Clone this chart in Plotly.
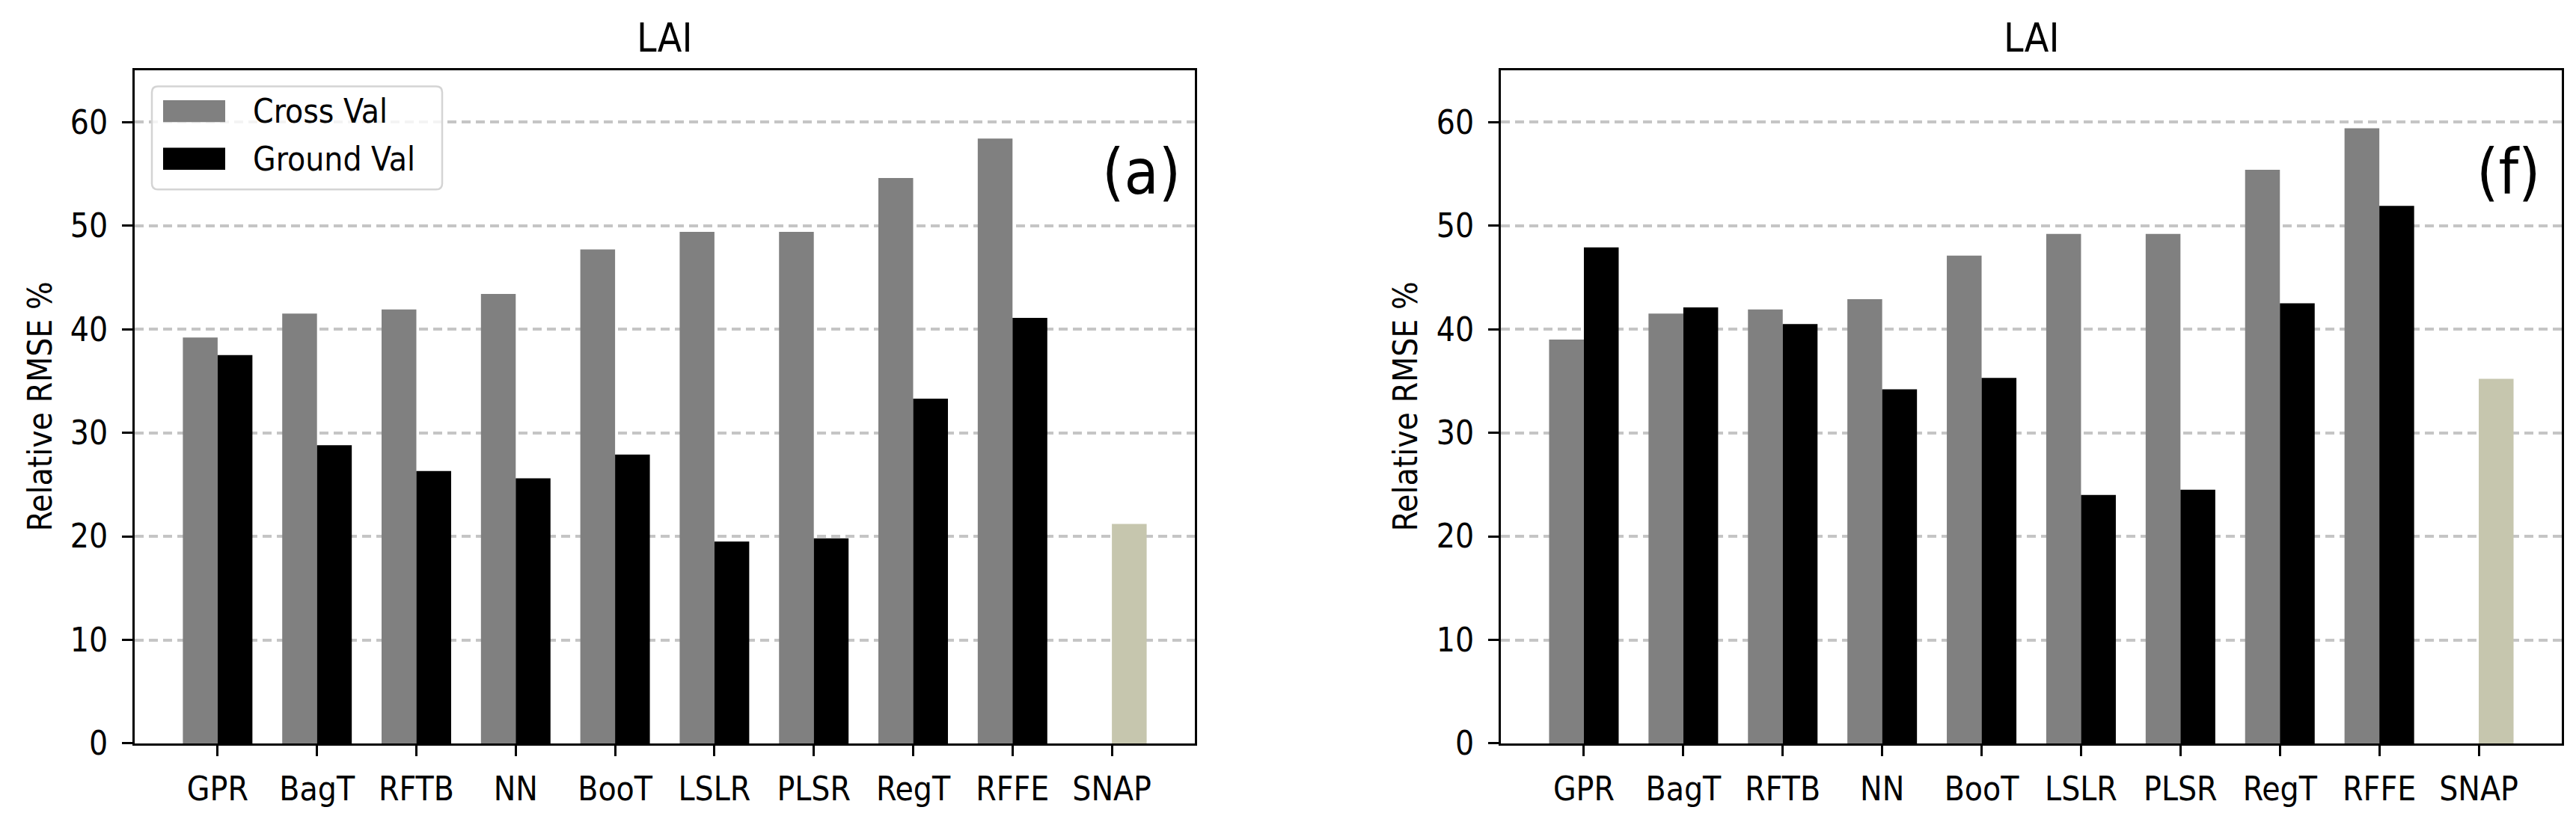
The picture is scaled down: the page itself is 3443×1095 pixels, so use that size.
import plotly.graph_objects as go
from plotly.subplots import make_subplots

W, H = 3443, 1095

categories = ["GPR", "BagT", "RFTB", "NN", "BooT", "LSLR", "PLSR", "RegT", "RFFE", "SNAP"]

# Panel (a)
cross_val_a = [39.2, 41.5, 41.9, 43.4, 47.7, 49.4, 49.4, 54.6, 58.4, None]
ground_val_a = [37.5, 28.8, 26.3, 25.6, 27.9, 19.5, 19.8, 33.3, 41.1, None]
snap_a = [None, None, None, None, None, None, None, None, None, 21.2]

# Panel (f)
cross_val_f = [39.0, 41.5, 41.9, 42.9, 47.1, 49.2, 49.2, 55.4, 59.4, None]
ground_val_f = [47.9, 42.1, 40.5, 34.2, 35.3, 24.0, 24.5, 42.5, 51.9, None]
snap_f = [None, None, None, None, None, None, None, None, None, 35.2]

y_ticks = [0, 10, 20, 30, 40, 50, 60]
panel_titles = ["LAI", "LAI"]
panel_tags = ["(a)", "(f)"]
series_names = ["Cross Val", "Ground Val"]
y_label = "Relative RMSE %"

C_CROSS = "#808080"
C_GROUND = "#000000"
C_SNAP = "#c6c6ae"
FONT = "DejaVu Sans Condensed, DejaVu Sans, sans-serif"


def fx(x):
    return x / W


def fy(y):
    return 1 - y / H


fig = make_subplots(rows=1, cols=2)

panels = [
    (cross_val_a, ground_val_a, snap_a),
    (cross_val_f, ground_val_f, snap_f),
]
for i, (cv, gv, sn) in enumerate(panels, start=1):
    fig.add_trace(go.Bar(x=categories, y=cv, name=series_names[0], marker_color=C_CROSS,
                         marker_line_width=0, offsetgroup="cv", showlegend=False), row=1, col=i)
    fig.add_trace(go.Bar(x=categories, y=gv, name=series_names[1], marker_color=C_GROUND,
                         marker_line_width=0, offsetgroup="gv", showlegend=False), row=1, col=i)
    fig.add_trace(go.Bar(x=categories, y=sn, name="SNAP", marker_color=C_SNAP,
                         marker_line_width=0, offsetgroup="gv", showlegend=False), row=1, col=i)

# axes domains (pixel-measured)
x_domains = [(172, 1589), (1998, 3416)]
y_dom = [fy(1009), fy(88)]

axis_common = dict(
    showline=True, mirror=True, linecolor="black", linewidth=3,
    ticks="outside", ticklen=14, tickwidth=3, tickcolor="black",
    tickfont=dict(family=FONT, size=44, color="black"),
    zeroline=False, layer="above traces",
)

for i, (x0, x1) in enumerate(x_domains, start=1):
    xa = "xaxis" if i == 1 else f"xaxis{i}"
    ya = "yaxis" if i == 1 else f"yaxis{i}"
    fig.layout[xa].update(domain=[fx(x0), fx(x1)], range=[-0.835, 9.835],
                          showgrid=False, ticklabelstandoff=6, **axis_common)
    fig.layout[ya].update(domain=y_dom, range=[0, 65], tickvals=y_ticks,
                          showgrid=True, gridcolor="rgba(150,150,150,0.55)", gridwidth=3.5,
                          griddash="12px,7px", ticklabelstandoff=10, **axis_common)

annotations = []
shapes = []
title_cx = [(172 + 1589) / 2, (1998 + 3416) / 2]
ylab_cx = [45, 1870]
tag_x = [9.71, 9.64]
for i in range(2):
    annotations.append(dict(text=panel_titles[i], x=fx(title_cx[i]), y=fy(44), xref="paper", yref="paper",
                            xanchor="center", yanchor="middle", showarrow=False,
                            font=dict(family=FONT, size=53, color="black")))
    annotations.append(dict(text=y_label, x=fx(ylab_cx[i]), y=fy(548), xref="paper", yref="paper",
                            xanchor="center", yanchor="middle", textangle=-90, showarrow=False,
                            font=dict(family=FONT, size=44, color="black")))
    xr = "x" if i == 0 else "x2"
    yr = "y" if i == 0 else "y2"
    annotations.append(dict(text=panel_tags[i], x=tag_x[i], y=55.2, xref=xr, yref=yr,
                            xanchor="right", yanchor="middle", showarrow=False,
                            font=dict(family=FONT, size=84, color="black")))

# manual legend (matplotlib style) in panel (a)
lx0, ly0, lx1, ly1, r = 195, 110, 583, 251, 8
path = (f"M {fx(lx0 + r)},{fy(ly0)} L {fx(lx1 - r)},{fy(ly0)} "
        f"Q {fx(lx1)},{fy(ly0)} {fx(lx1)},{fy(ly0 + r)} L {fx(lx1)},{fy(ly1 - r)} "
        f"Q {fx(lx1)},{fy(ly1)} {fx(lx1 - r)},{fy(ly1)} L {fx(lx0 + r)},{fy(ly1)} "
        f"Q {fx(lx0)},{fy(ly1)} {fx(lx0)},{fy(ly1 - r)} L {fx(lx0)},{fy(ly0 + r)} "
        f"Q {fx(lx0)},{fy(ly0)} {fx(lx0 + r)},{fy(ly0)} Z")
shapes.append(dict(type="path", path=path, xref="paper", yref="paper", layer="above",
                   fillcolor="rgba(255,255,255,0.8)", line=dict(color="#d4d4d4", width=2.5)))
legend_rows = [(129, 159, C_CROSS, series_names[0], 144), (194, 224, C_GROUND, series_names[1], 209)]
for (py0, py1, col, name, ty) in legend_rows:
    shapes.append(dict(type="rect", xref="paper", yref="paper", layer="above",
                       x0=fx(210), x1=fx(293), y0=fy(py1), y1=fy(py0),
                       fillcolor=col, line=dict(width=0)))
    annotations.append(dict(text=name, x=fx(328), y=fy(ty), xref="paper", yref="paper",
                            xanchor="left", yanchor="middle", showarrow=False,
                            font=dict(family=FONT, size=44, color="black")))

fig.update_layout(
    width=W, height=H,
    margin=dict(l=0, r=0, t=0, b=0),
    paper_bgcolor="white", plot_bgcolor="white",
    barmode="group", bargap=0.3, bargroupgap=0,
    showlegend=False,
    annotations=annotations, shapes=shapes,
    font=dict(family=FONT, color="black"),
)

fig.write_html("out.html")
